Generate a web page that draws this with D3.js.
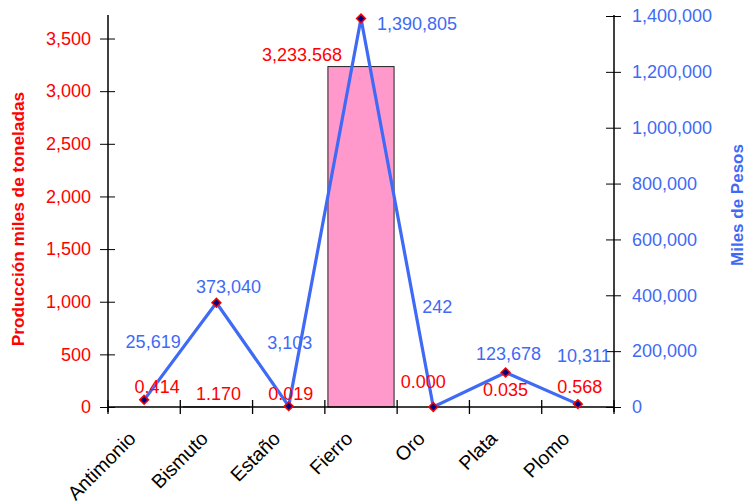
<!DOCTYPE html>
<html>
<head>
<meta charset="utf-8">
<script src="https://cdn.jsdelivr.net/npm/d3@7"></script>
<style>
  body { margin: 0; background: #fff; }
  text { font-family: Arial, "Liberation Sans", sans-serif; }
</style>
</head>
<body>
<div id="chart"></div>
<script>
// data
const categories = ["Antimonio", "Bismuto", "Estaño", "Fierro", "Oro", "Plata", "Plomo"];
const produccion = [0.414, 1.170, 0.019, 3233.568, 0.000, 0.035, 0.568];   // miles de toneladas (bars)
const valor = [25619, 373040, 3103, 1390805, 242, 123678, 10311];          // miles de pesos (line)
const leftTicks = [0, 500, 1000, 1500, 2000, 2500, 3000, 3500];
const rightTicks = [0, 200000, 400000, 600000, 800000, 1000000, 1200000, 1400000];

// label nudges (dx, dy) like the excel layout
const barLabelOffsets = [[13, -20], [2, -13], [2, -13], [-59, -12], [-10, -25], [0, -17], [2, -20]];
const lineLabelOffsets = [[9, -58], [12, -16], [1, -63], [56, 5], [4, -100], [3, -19], [6, -48]];

const W = 747, H = 504;
const pLeft = 108, pRight = 614, pTop = 16, pBottom = 407;
const red = "#ff0000", blue = "#3f6af5";

const svg = d3.select("#chart").append("svg")
  .attr("width", W).attr("height", H);

const x = d3.scaleBand().domain(categories).range([pLeft, pRight]).padding(0);
const yL = d3.scaleLinear().domain([0, 3714]).range([pBottom, pTop]);
const yR = d3.scaleLinear().domain([0, 1400000]).range([pBottom, pTop]);

const fmt0 = d3.format(",");
const fmt3 = d3.format(",.3f");

// bars
const bw = x.bandwidth() * 0.915;
svg.append("g").selectAll("rect")
  .data(produccion)
  .enter().append("rect")
    .attr("x", (d, i) => x(categories[i]) + (x.bandwidth() - bw) / 2)
    .attr("y", d => yL(d))
    .attr("width", bw)
    .attr("height", d => pBottom - yL(d))
    .attr("fill", "#ff99cc")
    .attr("stroke", d => d > 1 ? "#222" : "none")
    .attr("stroke-width", 1);

// left axis
const axL = svg.append("g")
  .attr("transform", "translate(" + pLeft + ",0)")
  .call(d3.axisLeft(yL).tickValues(leftTicks).tickFormat(fmt0).tickSize(8).tickPadding(9));
axL.select(".domain").remove();
axL.selectAll(".tick line").attr("x1", 7).attr("stroke", "#000");
axL.selectAll(".tick text").attr("fill", red).style("font-size", "18px");
svg.append("line").attr("x1", pLeft).attr("x2", pLeft).attr("y1", pTop - 1).attr("y2", pBottom + 5)
  .attr("stroke", "#000").attr("stroke-width", 1.5);

// right axis
const axR = svg.append("g")
  .attr("transform", "translate(" + pRight + ",0)")
  .call(d3.axisRight(yR).tickValues(rightTicks).tickFormat(fmt0).tickSize(7).tickPadding(11));
axR.select(".domain").remove();
axR.selectAll(".tick line").attr("x1", -8).attr("stroke", "#000");
axR.selectAll(".tick text").attr("fill", blue).style("font-size", "18px");
svg.append("line").attr("x1", pRight).attr("x2", pRight).attr("y1", pTop - 1).attr("y2", pBottom + 5)
  .attr("stroke", "#000").attr("stroke-width", 1.5);

// bottom axis
svg.append("line").attr("x1", pLeft).attr("x2", pRight).attr("y1", pBottom).attr("y2", pBottom)
  .attr("stroke", "#000").attr("stroke-width", 1.5);
const bounds = categories.map(c => x(c)).concat([pRight]);
svg.append("g").selectAll("line")
  .data(bounds)
  .enter().append("line")
    .attr("x1", d => d).attr("x2", d => d)
    .attr("y1", pBottom - 7).attr("y2", pBottom + 7)
    .attr("stroke", "#000").attr("stroke-width", 1.3);

svg.append("g").selectAll("text")
  .data(categories)
  .enter().append("text")
    .attr("transform", d => "translate(" + (x(d) + x.bandwidth() / 2 - 12) + "," + (pBottom + 28) + ") rotate(-45)")
    .attr("text-anchor", "end")
    .attr("dy", "0.35em")
    .style("font-size", "19.5px")
    .attr("fill", "#000")
    .text(d => d);

// line
const cx = i => x(categories[i]) + x.bandwidth() / 2;
svg.append("path")
  .datum(valor)
  .attr("fill", "none")
  .attr("stroke", blue)
  .attr("stroke-width", 3.2)
  .attr("stroke-linejoin", "miter")
  .attr("d", d3.line().x((d, i) => cx(i)).y(d => yR(d)));

svg.append("g").selectAll("path")
  .data(valor)
  .enter().append("path")
    .attr("transform", (d, i) => "translate(" + cx(i) + "," + yR(d) + ")")
    .attr("d", d3.symbol().type(d3.symbolDiamond2).size(50))
    .attr("fill", "#000080")
    .attr("stroke", red)
    .attr("stroke-width", 1.5);

// data labels
svg.append("g").selectAll("text")
  .data(produccion)
  .enter().append("text")
    .attr("x", (d, i) => cx(i) + barLabelOffsets[i][0])
    .attr("y", (d, i) => yL(d) + barLabelOffsets[i][1])
    .attr("dy", "0.35em")
    .attr("text-anchor", "middle")
    .attr("fill", red)
    .style("font-size", "18px")
    .text(d => fmt3(d));

svg.append("g").selectAll("text")
  .data(valor)
  .enter().append("text")
    .attr("x", (d, i) => cx(i) + lineLabelOffsets[i][0])
    .attr("y", (d, i) => yR(d) + lineLabelOffsets[i][1])
    .attr("dy", "0.35em")
    .attr("text-anchor", "middle")
    .attr("fill", blue)
    .style("font-size", "18px")
    .text(d => fmt0(d));

// axis titles
svg.append("text")
  .attr("transform", "translate(18,219) rotate(-90)")
  .attr("text-anchor", "middle")
  .attr("dy", "0.35em")
  .attr("fill", red)
  .style("font-size", "17.3px")
  .style("font-weight", "bold")
  .text("Producción miles de toneladas");

svg.append("text")
  .attr("transform", "translate(737,205) rotate(-90)")
  .attr("text-anchor", "middle")
  .attr("dy", "0.35em")
  .attr("fill", blue)
  .style("font-size", "17px")
  .style("font-weight", "bold")
  .text("Miles de Pesos");
</script>
</body>
</html>
